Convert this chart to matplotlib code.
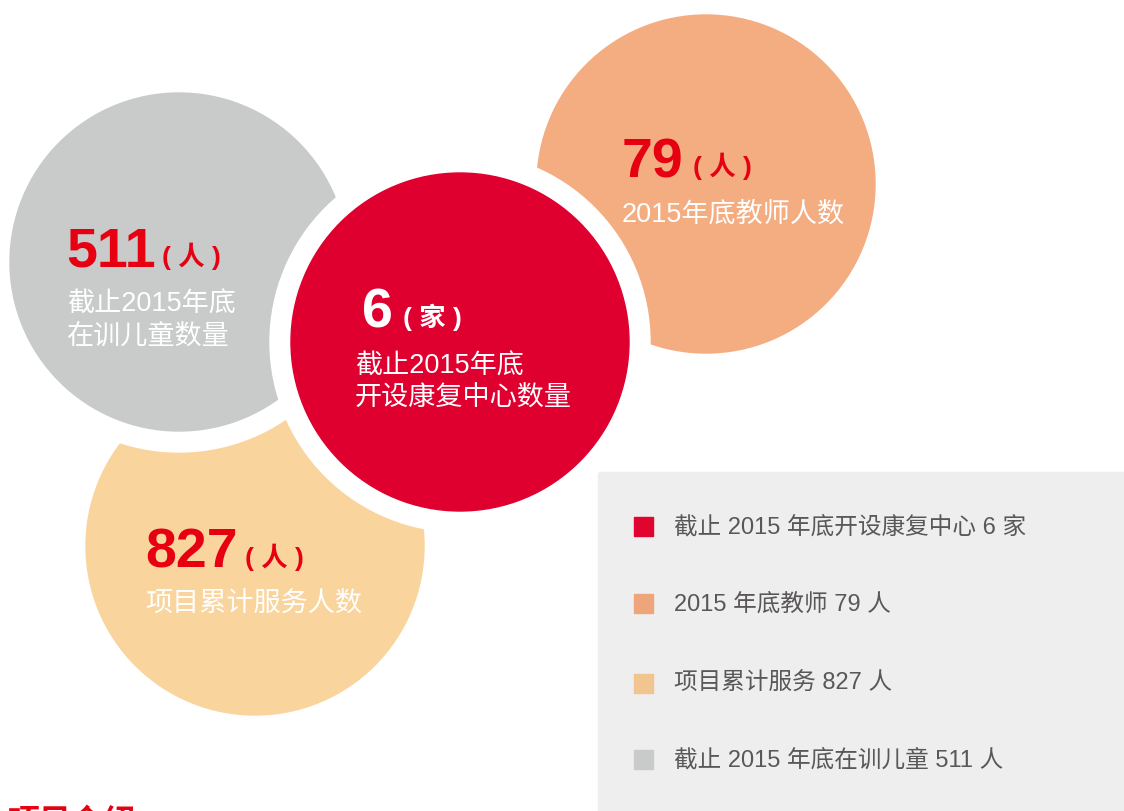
import matplotlib.pyplot as plt
from matplotlib.patches import Circle, Rectangle

plt.rcParams['font.family'] = ['Liberation Sans', 'Noto Sans CJK SC', 'DejaVu Sans']

# data
values = ['6', '79', '827', '511']
units = ['( 家 )', '( 人 )', '( 人 )', '( 人 )']
descriptions = [
    ['截止2015年底', '开设康复中心数量'],
    ['2015年底教师人数'],
    ['项目累计服务人数'],
    ['截止2015年底', '在训儿童数量'],
]
legend_labels = [
    '截止 2015 年底开设康复中心 6 家',
    '2015 年底教师 79 人',
    '项目累计服务 827 人',
    '截止 2015 年底在训儿童 511 人',
]
circle_colors = ['#DF0030', '#F4AC81', '#F9D49C', '#C9CACA']
legend_colors = ['#E0042E', '#EFA57C', '#F2C48F', '#C9CACA']
value_colors = ['white', '#E60012', '#E60012', '#E60012']

# layout (pixel coords, y downward)
centers = [(460, 343), (706, 185), (255, 547), (179, 263)]
radius = 169
border = 21
white_border = [True, False, False, True]
# x of number, baseline of number, x of unit, x of text, centre y of first text line
text_pos = [
    (362, 328, 403, 355, 367),
    (622, 177, 693, 622, 215),
    (145, 568, 245, 145, 605),
    (66, 267, 162, 67, 305),
]
line_gap = 32
draw_order = [2, 3, 1, 0]

fig = plt.figure(figsize=(11.24, 8.12), dpi=100)
ax = fig.add_axes([0, 0, 1, 1])
ax.set_xlim(0, 1124)
ax.set_ylim(812, 0)
ax.axis('off')

for k, i in enumerate(draw_order):
    cx, cy = centers[i]
    if white_border[i]:
        ax.add_patch(Circle((cx, cy), radius + border, color='white', zorder=1 + k * 2))
    ax.add_patch(Circle((cx, cy), radius, color=circle_colors[i], zorder=2 + k * 2))

for i in range(4):
    nx, nb, ux, tx, ty = text_pos[i]
    ax.text(nx, nb, values[i], fontsize=40, fontweight='bold', color=value_colors[i],
            va='baseline', ha='left', zorder=20)
    ax.text(ux, nb - 2, units[i], fontsize=19, fontweight='bold', color=value_colors[i],
            va='baseline', ha='left', zorder=20)
    for j, line in enumerate(descriptions[i]):
        ax.text(tx, ty + j * line_gap, line, fontsize=19.5, color='white',
                va='center', ha='left', zorder=20)

# legend panel
ax.add_patch(Rectangle((598, 473), 1124 - 598, 812 - 473, color='#EEEEEE', zorder=0.5))
row_y = [527, 604, 684, 760]
for i in range(4):
    ax.add_patch(Rectangle((634, row_y[i] - 9.5), 19, 19, color=legend_colors[i], zorder=21))
    ax.text(674, row_y[i], legend_labels[i], fontsize=17, color='#595757',
            va='center', ha='left', zorder=21)

ax.text(7, 809, '项目介绍', fontsize=23, fontweight='bold', color='#E60012',
        va='top', ha='left', zorder=21)

fig.savefig('out.png', dpi=100)
